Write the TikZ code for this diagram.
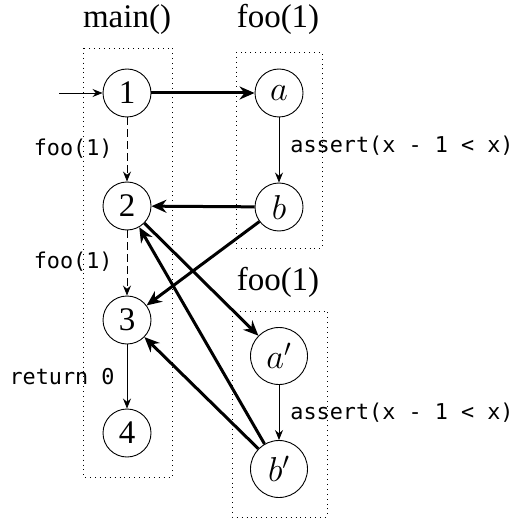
\documentclass[tikz,border=0pt]{standalone}
\usepackage{fontspec}
\setmainfont{Liberation Serif}
\setmonofont{DejaVu Sans Mono}
\usetikzlibrary{arrows.meta}
\begin{document}
\begin{tikzpicture}[x=0.5pt,y=-0.5pt,
 state/.style={circle,draw,line width=0.45pt,minimum size=24pt,inner sep=1pt,font=\fontsize{16.5}{18}\selectfont},
 primed/.style={minimum size=28.5pt},
 title/.style={font=\fontsize{16.5}{18}\selectfont,anchor=base,inner sep=0pt},
 code/.style={font=\fontsize{10.9}{12}\ttfamily,inner sep=0pt},
 frame/.style={draw,dotted,line width=0.45pt},
 thinarrow/.style={-{Stealth[length=5pt,width=4pt]},line width=0.45pt},
 callarrow/.style={thinarrow,dash pattern=on 4pt off 2pt},
 jump/.style={-{Stealth[length=7.5pt,width=6.5pt]},line width=1.5pt},
]
\useasboundingbox (0,0) rectangle (515,518);
% frames
\draw[frame] (83,48) rectangle (172,477);
\draw[frame] (236,52) rectangle (322,248);
\draw[frame] (232,311) rectangle (327,517);
% titles
\node[title] (tmain) at (127,28) {main()};
\node[title] (tfooA) at (278,28) {foo(1)};
\node[title] (tfooB) at (278,290) {foo(1)};
% states
\node[state] (n1) at (127,93) {1};
\node[state] (n2) at (127,206) {2};
\node[state] (n3) at (127,320) {3};
\node[state] (n4) at (127,433) {4};
\node[state] (a) at (279,93) {$a$};
\node[state] (b) at (279,207) {$b$};
\node[state,primed] (a2) at (279,356) {$a'$};
\node[state,primed] (b2) at (279,469) {$b'$};
\coordinate (start) at (59,93);
% edges
\draw[thinarrow] (start) -- (n1);
\draw[callarrow] (n1) -- (n2);
\draw[callarrow] (n2) -- (n3);
\draw[thinarrow] (n3) -- (n4);
\draw[thinarrow] (a) -- (b);
\draw[thinarrow] (a2) -- (b2);
\draw[jump] (n1) -- (a);
\draw[jump] (b) -- (n2);
\draw[jump] (b) -- (n3);
\draw[jump] (n2) -- (a2);
\draw[jump] (b2) -- (n2);
\draw[jump] (b2) -- (n3);
% labels
\node[code,anchor=east] (l1) at (113,149) {foo(1)};
\node[code,anchor=east] (l2) at (113,262) {foo(1)};
\node[code,anchor=east] (l3) at (115,377) {return 0};
\node[code,anchor=west] (l4) at (290,146) {assert(x - 1 < x)};
\node[code,anchor=west] (l5) at (290,413) {assert(x - 1 < x)};
\end{tikzpicture}
\end{document}
